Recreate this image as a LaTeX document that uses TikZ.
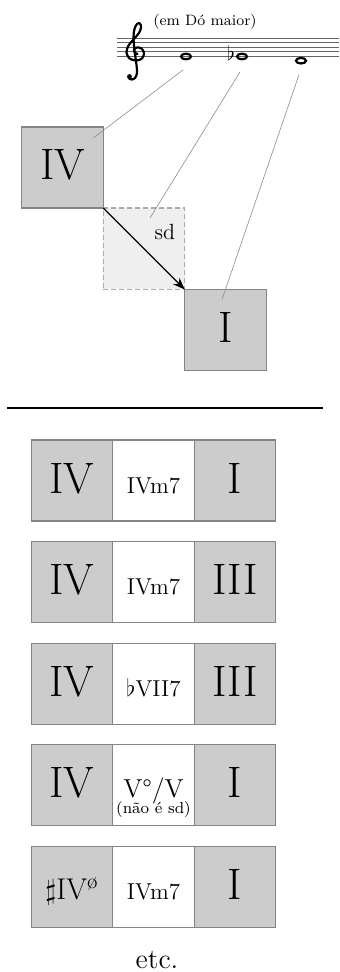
\documentclass[tikz,border=0pt]{standalone}
\usetikzlibrary{positioning,arrows.meta,shapes.geometric}
\definecolor{boxgray}{HTML}{CCCCCC}
\definecolor{edgegray}{HTML}{858585}
\definecolor{sdgray}{HTML}{EFEFEF}
\definecolor{dashgray}{HTML}{AAAAAA}
\definecolor{guidegray}{HTML}{8C8C8C}
\tikzset{
  chord/.style={draw=edgegray, fill=boxgray, line width=0.55pt, outer sep=0pt, inner sep=0pt,
    minimum width=40.75pt, minimum height=40.5pt, text height=14pt, text depth=1.5pt,
    font=\fontsize{22}{22}\selectfont},
  mid/.style={chord, fill=white, font=\fontsize{11.5}{12}\selectfont},
  sdbox/.style={draw=dashgray, fill=sdgray, line width=0.55pt, dash pattern=on 2.5pt off 1.5pt,
    outer sep=0pt, minimum width=40.75pt, minimum height=40.75pt},
  guide/.style={draw=guidegray, line width=0.3pt},
  staffline/.style={black!60, line width=0.45pt},
  wholenote/.style={ellipse, draw, line width=1.1pt, inner sep=0pt, minimum width=5pt, minimum height=2.8pt},
  smalltext/.style={inner sep=0pt, font=\fontsize{8}{9}\selectfont}
}
\begin{document}
\begin{tikzpicture}[x=0.5pt,y=-0.5pt]
  \useasboundingbox (0,0) rectangle (339,972);
  % staff
  \foreach \s in {0,...,4}
    \draw[staffline] (117,38+4.6*\s) -- (339,38+4.6*\s);
  % treble clef
  \draw[line width=1.1pt, line cap=round, line join=round] plot[smooth, tension=0.55] coordinates {
    (137.5,54) (134.5,52.5) (134,49.5) (137,47.5) (141.5,48.5) (144,53) (142,58.5) (136,60.5)
    (129.5,58.5) (126.5,52.5) (128.5,45.5) (134,39) (139,33) (141,27.5) (140,23.5) (137,24)
    (134.5,29) (133.5,37) (134.5,50) (136.5,65) (137,73) (135,78) (131.5,79.5) (128.5,78)};
  \fill (129.5,76.5) circle (2.4);
  \node[smalltext, font=\fontsize{7.5}{8}\selectfont] (key) at (205,21.5) {(em Dó maior)};
  \node[wholenote] (n1) at (186,56.5) {};
  \node[wholenote] (n2) at (242,56.5) {};
  \node[inner sep=0pt, font=\fontsize{10}{10}\selectfont] (flat) at (231,53) {$\flat$};
  \node[wholenote] (n3) at (301,60.7) {};
  % IV -> I
  \node[chord] (IV) at (62.5,167.5) {IV};
  \node[sdbox, below right=0pt of IV] (sd) {};
  \node[chord, below right=0pt of sd] (I) {I};
  \node[inner sep=0pt, font=\fontsize{11}{11}\selectfont] (sdtext) at ([shift={(-20,24)}]sd.north east) {sd};
  \draw[-{Stealth[length=6pt,width=4.5pt]}, line width=0.6pt] (IV.south east) -- (I.north west);
  \coordinate (g1a) at ([shift={(-3,13.5)}]n1.center);
  \coordinate (g1b) at ([shift={(-10,11)}]IV.north east);
  \coordinate (g2a) at ([shift={(-2,15.5)}]n2.center);
  \coordinate (g2b) at ([shift={(6,10)}]sd.north);
  \coordinate (g3a) at ([shift={(-2,14)}]n3.center);
  \coordinate (g3b) at ([shift={(-3.5,10)}]I.north);
  \draw[guide] (g1a) -- (g1b);
  \draw[guide] (g2a) -- (g2b);
  \draw[guide] (g3a) -- (g3b);
  % rule
  \coordinate (rulel) at (7,408);
  \coordinate (ruler) at (323,408);
  \draw[line width=1pt] (rulel) -- (ruler);
  % examples
  \node[chord] (r1a) at (72,480.5) {IV};
  \node[mid, right=0pt of r1a] (r1b) {IVm7};
  \node[chord, right=0pt of r1b] (r1c) {I};
  \node[chord] (r2a) at (72,582.1) {IV};
  \node[mid, right=0pt of r2a] (r2b) {IVm7};
  \node[chord, right=0pt of r2b] (r2c) {III};
  \node[chord] (r3a) at (72,683.7) {IV};
  \node[mid, right=0pt of r3a] (r3b) {$\flat$VII7};
  \node[chord, right=0pt of r3b] (r3c) {III};
  \node[chord] (r4a) at (72,785.3) {IV};
  \node[mid, right=0pt of r4a, font=\fontsize{13}{13}\selectfont] (r4b) {V\textdegree/V};
  \node[chord, right=0pt of r4b] (r4c) {I};
  \node[smalltext, anchor=base] (r4n) at ([yshift=-8pt]r4b.base) {(não é sd)};
  \node[chord, font=\fontsize{15}{15}\selectfont] (r5a) at (72,886.9) {$\sharp$IV\textsuperscript{\o}};
  \node[mid, right=0pt of r5a] (r5b) {IVm7};
  \node[chord, right=0pt of r5b] (r5c) {I};
  \node[anchor=base, inner sep=0pt, font=\fontsize{14}{14}\selectfont] (etc) at (157,968) {etc.};
\end{tikzpicture}
\end{document}
